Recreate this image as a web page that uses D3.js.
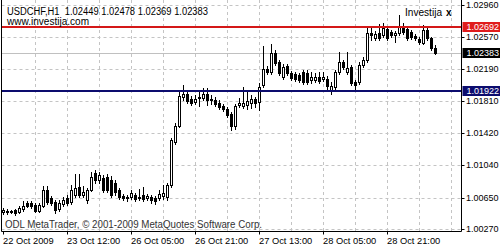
<!DOCTYPE html>
<html>
<head>
<meta charset="utf-8">
<script src="https://cdn.jsdelivr.net/npm/d3@7"></script>
<style>
  body { margin: 0; background: #fff; }
  svg { display: block; font-family: "Liberation Sans", Arial, sans-serif; }
</style>
</head>
<body>
<svg id="chart" width="500" height="250"></svg>
<script>
// USDCHF H1 candles (one bar per hour)
const open = [
  1.00476, 1.00488, 1.00476, 1.00500, 1.00476, 1.00512, 1.00584, 1.00584, 1.00560, 1.00488,
  1.00548, 1.00740, 1.00644, 1.00596, 1.00512, 1.00572, 1.00644, 1.00596, 1.00680, 1.00776,
  1.00680, 1.00620, 1.00740, 1.00944, 1.00860, 1.00884, 1.00896, 1.00860, 1.00824, 1.00740,
  1.00668, 1.00656, 1.00656, 1.00680, 1.00656, 1.00680, 1.00644, 1.00656, 1.00644, 1.00644,
  1.00668, 1.00656, 1.00800, 1.01316, 1.01508, 1.01856, 1.01892, 1.01832, 1.01796, 1.01844,
  1.01844, 1.01892, 1.01820, 1.01820, 1.01784, 1.01748, 1.01712, 1.01652, 1.01508, 1.01760,
  1.01748, 1.01760, 1.01784, 1.01832, 1.01796, 1.02000, 1.02192, 1.02156, 1.02384, 1.02276,
  1.02096, 1.02228, 1.02144, 1.02132, 1.02120, 1.02156, 1.02144, 1.02060, 1.02060, 1.02096,
  1.02072, 1.02072, 1.01940, 1.01976, 1.02156, 1.02276, 1.02156, 1.02216, 1.02036, 1.02036,
  1.02240, 1.02300, 1.02624, 1.02564, 1.02624, 1.02600, 1.02672, 1.02636, 1.02600, 1.02624,
  1.02696, 1.02672, 1.02636, 1.02588, 1.02552, 1.02504, 1.02660, 1.02564, 1.02449
];
const high = [
  1.00524, 1.00512, 1.00500, 1.00512, 1.00548, 1.00608, 1.00608, 1.00608, 1.00584, 1.00584,
  1.00788, 1.00788, 1.00668, 1.00620, 1.00620, 1.00656, 1.00680, 1.00800, 1.00932, 1.00932,
  1.00788, 1.00764, 1.00956, 1.00980, 1.00956, 1.00920, 1.00932, 1.00908, 1.00860, 1.00764,
  1.00692, 1.00680, 1.00740, 1.00704, 1.00752, 1.00776, 1.00692, 1.00680, 1.00668, 1.00740,
  1.00800, 1.00824, 1.01364, 1.01544, 1.01916, 1.02000, 1.01940, 1.01868, 1.01880, 1.01928,
  1.01964, 1.01964, 1.01880, 1.01856, 1.01820, 1.01772, 1.01736, 1.01676, 1.01772, 1.01844,
  1.01976, 1.01940, 1.01880, 1.01856, 1.02024, 1.02468, 1.02228, 1.02492, 1.02420, 1.02300,
  1.02252, 1.02252, 1.02168, 1.02156, 1.02144, 1.02180, 1.02180, 1.02156, 1.02144, 1.02156,
  1.02156, 1.02108, 1.02036, 1.02180, 1.02396, 1.02300, 1.02396, 1.02240, 1.02060, 1.02276,
  1.02336, 1.02696, 1.02696, 1.02648, 1.02732, 1.02744, 1.02696, 1.02660, 1.02648, 1.02840,
  1.02744, 1.02696, 1.02660, 1.02612, 1.02576, 1.02720, 1.02684, 1.02576, 1.02478
];
const low = [
  1.00452, 1.00452, 1.00464, 1.00440, 1.00464, 1.00488, 1.00536, 1.00524, 1.00476, 1.00476,
  1.00536, 1.00572, 1.00560, 1.00464, 1.00488, 1.00548, 1.00560, 1.00572, 1.00656, 1.00656,
  1.00656, 1.00584, 1.00728, 1.00824, 1.00824, 1.00716, 1.00716, 1.00656, 1.00680, 1.00632,
  1.00620, 1.00608, 1.00632, 1.00608, 1.00620, 1.00608, 1.00620, 1.00584, 1.00572, 1.00620,
  1.00632, 1.00620, 1.00776, 1.01292, 1.01496, 1.01820, 1.01784, 1.01760, 1.01772, 1.01748,
  1.01820, 1.01760, 1.01772, 1.01748, 1.01712, 1.01688, 1.01616, 1.01460, 1.01472, 1.01736,
  1.01724, 1.01712, 1.01724, 1.01736, 1.01700, 1.01976, 1.02132, 1.02132, 1.02240, 1.02120,
  1.02072, 1.02120, 1.02060, 1.02048, 1.02036, 1.02012, 1.02012, 1.02024, 1.02036, 1.02024,
  1.02048, 1.01940, 1.01892, 1.01952, 1.02132, 1.02192, 1.02132, 1.02000, 1.01952, 1.02012,
  1.02216, 1.02276, 1.02540, 1.02540, 1.02540, 1.02576, 1.02540, 1.02576, 1.02516, 1.02600,
  1.02612, 1.02540, 1.02552, 1.02540, 1.02492, 1.02492, 1.02540, 1.02420, 1.02369
];
const close = [
  1.00500, 1.00476, 1.00488, 1.00464, 1.00524, 1.00548, 1.00548, 1.00548, 1.00488, 1.00560,
  1.00740, 1.00596, 1.00584, 1.00500, 1.00584, 1.00620, 1.00584, 1.00740, 1.00764, 1.00680,
  1.00716, 1.00740, 1.00896, 1.00860, 1.00920, 1.00740, 1.00740, 1.00680, 1.00716, 1.00656,
  1.00644, 1.00644, 1.00704, 1.00632, 1.00644, 1.00632, 1.00668, 1.00620, 1.00608, 1.00692,
  1.00704, 1.00800, 1.01340, 1.01508, 1.01868, 1.01892, 1.01808, 1.01784, 1.01832, 1.01856,
  1.01892, 1.01820, 1.01832, 1.01772, 1.01736, 1.01712, 1.01640, 1.01508, 1.01748, 1.01784,
  1.01784, 1.01808, 1.01832, 1.01784, 1.01976, 1.02192, 1.02156, 1.02384, 1.02264, 1.02144,
  1.02216, 1.02144, 1.02084, 1.02072, 1.02060, 1.02036, 1.02036, 1.02096, 1.02096, 1.02048,
  1.02096, 1.01988, 1.01988, 1.02156, 1.02276, 1.02216, 1.02204, 1.02024, 1.02000, 1.02240,
  1.02300, 1.02624, 1.02600, 1.02612, 1.02564, 1.02684, 1.02564, 1.02600, 1.02624, 1.02696,
  1.02636, 1.02564, 1.02576, 1.02564, 1.02516, 1.02660, 1.02564, 1.02444, 1.02383
];

// time axis labels and the bar they sit on
const timeLabels = ["22 Oct 2009", "23 Oct 12:00", "26 Oct 05:00", "26 Oct 21:00",
                    "27 Oct 13:00", "28 Oct 05:00", "28 Oct 21:00"];
const timeLabelBars = [0, 16, 32, 48, 64, 80, 96];
const gridBars = [8, 16, 24, 32, 40, 48, 56, 64, 72, 80, 88, 96, 104, 112];

// price scale ticks
const priceTicks = [1.02960, 1.02570, 1.02190, 1.01810, 1.01420, 1.01040, 1.00650, 1.00270];

// horizontal levels drawn on the chart
const resistance = 1.02692;
const support = 1.01922;
const bid = close[close.length - 1];

const header = "USDCHF,H1  1.02449 1.02478 1.02369 1.02383";
const site = "www.investija.com";
const footer = "ODL MetaTrader, \u00A9 2001-2009 MetaQuotes Software Corp.";

const svg = d3.select('#chart');
const plot = { left: 1.5, right: 461.5, top: 0, bottom: 231.5 };

// one bar every 4 pixels
const x = d3.scaleLinear().domain([0, 108]).range([3, 435]);
const y = d3.scaleLinear().domain([1.03020, 1.00020]).range([0, 250]);
const px = v => Math.round(v) + 0.5;

svg.append('rect').attr('width', 500).attr('height', 250).attr('fill', '#fff');

svg.append('clipPath').attr('id', 'plotClip')
  .append('rect')
  .attr('x', plot.left).attr('y', plot.top)
  .attr('width', plot.right - plot.left).attr('height', plot.bottom - plot.top);

const g = svg.append('g').attr('clip-path', 'url(#plotClip)');

// dashed grid
g.selectAll('.hgrid')
  .data(priceTicks)
  .join('line')
  .attr('class', 'hgrid')
  .attr('x1', plot.left).attr('x2', plot.right)
  .attr('y1', d => px(y(d))).attr('y2', d => px(y(d)))
  .attr('stroke', '#c4c4c4')
  .attr('stroke-dasharray', '3,3');

g.selectAll('.vgrid')
  .data(gridBars)
  .join('line')
  .attr('class', 'vgrid')
  .attr('x1', d => px(x(d))).attr('x2', d => px(x(d)))
  .attr('y1', plot.top).attr('y2', plot.bottom)
  .attr('stroke', '#c4c4c4')
  .attr('stroke-dasharray', '3,3');

// bid line
g.append('line')
  .attr('x1', plot.left).attr('x2', plot.right)
  .attr('y1', px(y(bid))).attr('y2', px(y(bid)))
  .attr('stroke', '#c0c0c0');

const bars = d3.range(open.length);

// wicks
g.selectAll('.wick')
  .data(bars)
  .join('line')
  .attr('class', 'wick')
  .attr('x1', i => px(x(i))).attr('x2', i => px(x(i)))
  .attr('y1', i => Math.round(y(high[i])))
  .attr('y2', i => Math.round(y(low[i])) + 1)
  .attr('stroke', '#000');

// bodies
g.selectAll('.body')
  .data(bars)
  .join('rect')
  .attr('class', 'body')
  .attr('x', i => Math.round(x(i)) - 0.5)
  .attr('width', 2)
  .attr('y', i => Math.round(y(Math.max(open[i], close[i]))) + 0.5)
  .attr('height', i => Math.max(0, Math.round(y(Math.min(open[i], close[i]))) - Math.round(y(Math.max(open[i], close[i])))))
  .attr('fill', i => close[i] >= open[i] ? '#fff' : '#000')
  .attr('stroke', '#000');

// support / resistance lines
g.append('line')
  .attr('x1', plot.left).attr('x2', plot.right)
  .attr('y1', Math.round(y(resistance))).attr('y2', Math.round(y(resistance)))
  .attr('stroke', '#d41818').attr('stroke-width', 2);

g.append('line')
  .attr('x1', plot.left).attr('x2', plot.right)
  .attr('y1', Math.round(y(support))).attr('y2', Math.round(y(support)))
  .attr('stroke', '#0c0c6e').attr('stroke-width', 2);

// frame
svg.append('line')
  .attr('x1', plot.left).attr('x2', plot.left)
  .attr('y1', plot.top).attr('y2', plot.bottom)
  .attr('stroke', '#000');

// right price axis
const yAxisG = svg.append('g')
  .attr('transform', `translate(${plot.right},0)`)
  .call(d3.axisRight(y)
    .tickValues(priceTicks)
    .tickFormat(d3.format('.5f'))
    .tickSize(3)
    .tickSizeOuter(0));
yAxisG.select('.domain').attr('d', `M0,${plot.top}V${plot.bottom}`).attr('stroke', '#000');
yAxisG.selectAll('.tick').attr('transform', d => `translate(0,${px(y(d))})`);
yAxisG.selectAll('.tick line').attr('stroke', '#000');
yAxisG.selectAll('.tick text')
  .attr('x', 4.5)
  .attr('dy', '0.33em')
  .attr('fill', '#000')
  .style('font-size', '9px')
  .style('font-family', '"Liberation Sans", Arial, sans-serif');

// bottom time axis
const xAxisG = svg.append('g')
  .attr('transform', `translate(0,${plot.bottom})`)
  .call(d3.axisBottom(x)
    .tickValues(timeLabelBars)
    .tickFormat((d, k) => timeLabels[k])
    .tickSize(3)
    .tickSizeOuter(0));
xAxisG.select('.domain').attr('d', `M${plot.left},0H${plot.right}`).attr('stroke', '#000');
xAxisG.selectAll('.tick').attr('transform', d => `translate(${px(x(d))},0)`);
xAxisG.selectAll('.tick line').attr('stroke', '#000');
xAxisG.selectAll('.tick text')
  .attr('text-anchor', 'start')
  .attr('x', -0.5)
  .attr('y', 6)
  .attr('dy', '0.71em')
  .attr('fill', '#000')
  .style('font-size', '9.3px')
  .style('font-family', '"Liberation Sans", Arial, sans-serif');

// price tags on the scale
const tags = [
  { value: resistance, fill: '#e01c1c' },
  { value: bid, fill: '#000' },
  { value: support, fill: '#0c0c6e' }
];
const tagG = svg.selectAll('.tag')
  .data(tags)
  .join('g')
  .attr('class', 'tag')
  .attr('transform', d => `translate(${plot.right + 1},${Math.round(y(d.value))})`);
tagG.append('rect')
  .attr('x', 0).attr('y', -5)
  .attr('width', 40).attr('height', 10)
  .attr('fill', d => d.fill);
tagG.append('text')
  .attr('x', 4)
  .attr('dy', '0.35em')
  .attr('fill', '#fff')
  .style('font-size', '9px')
  .text(d => d3.format('.5f')(d.value));

// texts
svg.append('text')
  .attr('x', 7).attr('y', 14.5)
  .attr('xml:space', 'preserve')
  .attr('textLength', 201)
  .attr('lengthAdjust', 'spacingAndGlyphs')
  .style('font-size', '10px')
  .attr('fill', '#000')
  .text(header);
svg.append('text')
  .attr('x', 7).attr('y', 25)
  .attr('textLength', 82)
  .attr('lengthAdjust', 'spacingAndGlyphs')
  .style('font-size', '10px')
  .attr('fill', '#000')
  .text(site);
svg.append('text')
  .attr('x', 405).attr('y', 16)
  .attr('textLength', 37)
  .attr('lengthAdjust', 'spacingAndGlyphs')
  .style('font-size', '10px')
  .attr('fill', '#000')
  .text('Investija');
svg.append('text')
  .attr('x', 446).attr('y', 16)
  .style('font-size', '10px')
  .style('font-weight', 'bold')
  .attr('fill', '#000')
  .text('x');
svg.append('text')
  .attr('x', 5).attr('y', 227.5)
  .attr('textLength', 257)
  .attr('lengthAdjust', 'spacingAndGlyphs')
  .style('font-size', '10px')
  .attr('fill', '#333')
  .text(footer);
</script>
</body>
</html>
